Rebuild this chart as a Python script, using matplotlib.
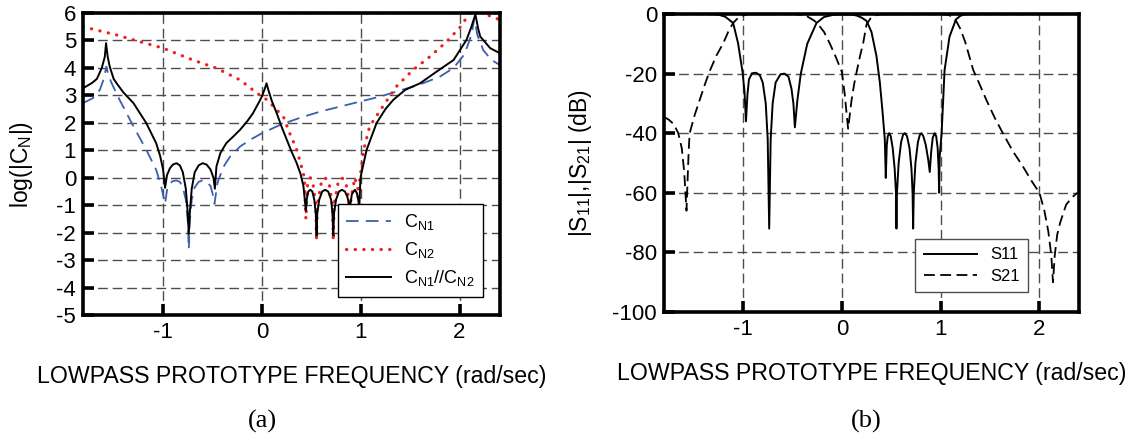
import matplotlib
matplotlib.use('Agg')
import matplotlib.pyplot as plt

plt.rcParams['font.family'] = ['Liberation Sans', 'DejaVu Sans']
plt.rcParams['mathtext.fontset'] = 'custom'
plt.rcParams['mathtext.rm'] = 'Liberation Sans'
plt.rcParams['mathtext.it'] = 'Liberation Sans:italic'
plt.rcParams['axes.unicode_minus'] = False

# ---------------- data ----------------
# (a) characteristic functions, log(|C_N|)
cn1_x = [-1.81, -1.71, -1.64, -1.60, -1.574, -1.55, -1.52, -1.44, -1.30, -1.17, -1.07,
         -1.02, -0.98, -0.96, -0.93, -0.90, -0.865, -0.83, -0.80, -0.77, -0.75, -0.74,
         -0.73, -0.71, -0.68, -0.64, -0.60, -0.56, -0.52, -0.49, -0.48, -0.45, -0.426,
         -0.38, -0.32, -0.22, -0.10, 0.0, 0.2, 0.4, 0.6, 0.8, 1.0, 1.2, 1.4, 1.6, 1.8,
         1.94, 2.05, 2.12, 2.15, 2.18, 2.24, 2.32, 2.41]
cn1_y = [2.72, 2.9, 3.2, 3.6, 4.05, 3.7, 3.44, 2.84, 1.87, 1.02, 0.29,
         -0.3, -0.95, -0.45, -0.2, -0.12, -0.1, -0.15, -0.35, -0.8, -1.6, -2.6,
         -1.6, -0.8, -0.35, -0.15, -0.1, -0.15, -0.3, -0.7, -0.95, -0.2, 0.05,
         0.45, 0.78, 1.14, 1.42, 1.62, 1.95, 2.2, 2.42, 2.6, 2.78, 2.96, 3.18, 3.4, 3.68,
         4.0, 4.5, 5.2, 5.8, 5.2, 4.65, 4.3, 4.1]

cn2_x = [-1.81, -1.47, -1.24, -1.0, -0.7, -0.46, -0.22, -0.05, 0.05, 0.13, 0.22, 0.28,
         0.35, 0.40, 0.43, 0.445, 0.46, 0.49, 0.52, 0.545, 0.553, 0.56, 0.60, 0.64, 0.68,
         0.714, 0.722, 0.73, 0.77, 0.81, 0.85, 0.88, 0.89, 0.90, 0.94, 0.97, 0.985, 0.99,
         1.03, 1.09, 1.20, 1.36, 1.53, 1.70, 1.87, 2.01, 2.09, 2.15, 2.22, 2.28, 2.41]
cn2_y = [5.5, 5.2, 4.96, 4.72, 4.29, 3.99, 3.56, 3.08, 2.84, 2.55, 2.2, 1.63,
         1.05, 0.41, 0.0, -1.5, -0.3, 0.0, -0.3, -1.0, -2.3, -1.0, -0.2, 0.0, -0.2,
         -1.0, -2.3, -1.0, -0.2, 0.0, -0.2, -0.8, -1.5, -0.8, 0.0, -0.4, -1.5, -0.07,
         1.02, 1.87, 2.47, 3.32, 3.93, 4.41, 4.96, 5.5, 5.93, 6.2, 6.2, 5.93, 5.75]

cnp_x = [-1.81, -1.72, -1.67, -1.62, -1.59, -1.577, -1.56, -1.54, -1.50, -1.47, -1.40,
         -1.30, -1.17, -1.07, -1.03, -1.0, -0.98, -0.96, -0.93, -0.90, -0.865, -0.83,
         -0.80, -0.77, -0.75, -0.74, -0.73, -0.71, -0.68, -0.64, -0.60, -0.56, -0.52,
         -0.49, -0.476, -0.46, -0.42, -0.36, -0.29, -0.22, -0.15, -0.09, -0.03, 0.0,
         0.03, 0.047, 0.065, 0.10, 0.15, 0.20, 0.25, 0.30, 0.35, 0.39, 0.42, 0.445,
         0.455, 0.47, 0.49, 0.51, 0.53, 0.545, 0.553, 0.56, 0.58, 0.61, 0.64, 0.67, 0.70,
         0.714, 0.722, 0.73, 0.75, 0.78, 0.81, 0.84, 0.865, 0.89, 0.91, 0.94, 0.96, 0.975,
         0.985, 0.995, 1.0, 1.06, 1.16, 1.25, 1.33, 1.45, 1.60, 1.77, 1.94, 2.07, 2.12,
         2.16, 2.19, 2.21, 2.31, 2.41]
cnp_y = [3.26, 3.45, 3.6, 4.0, 4.4, 4.9, 4.4, 4.05, 3.6, 3.44, 3.1,
         2.72, 1.99, 1.26, 0.8, 0.3, -0.37, 0.1, 0.35, 0.48, 0.53, 0.45,
         0.2, -0.4, -1.3, -2.05, -1.3, -0.4, 0.2, 0.45, 0.53, 0.48, 0.3,
         0.0, -0.4, 0.41, 0.9, 1.26, 1.5, 1.75, 2.05, 2.35, 2.75, 2.96,
         3.25, 3.44, 3.2, 2.8, 2.35, 1.85, 1.4, 0.95, 0.55, 0.15, -0.3, -1.2,
         -0.75, -0.5, -0.44, -0.5, -0.8, -1.3, -2.1, -1.3, -0.8, -0.5, -0.44, -0.5, -0.8,
         -1.3, -2.1, -1.3, -0.8, -0.5, -0.44, -0.5, -0.7, -1.1, -0.6, -0.44, -0.55, -0.8,
         -1.1, -0.2, 0.05, 1.02, 1.99, 2.5, 2.84, 3.2, 3.44, 3.87, 4.29, 5.02, 5.5,
         5.95, 5.4, 5.14, 4.72, 4.53]

# (b) S-parameters in dB
s11_x = [-1.80, -1.40, -1.30, -1.25, -1.18, -1.10, -1.05, -1.005, -0.985, -0.97, -0.955,
         -0.94, -0.91, -0.87, -0.83, -0.80, -0.77, -0.75, -0.735, -0.72, -0.70, -0.67,
         -0.62, -0.58, -0.54, -0.51, -0.49, -0.475, -0.45, -0.415, -0.35, -0.256, -0.18,
         -0.09, 0.0, 0.1, 0.15, 0.2, 0.25, 0.3, 0.35, 0.385, 0.41, 0.435, 0.445, 0.455,
         0.465, 0.48, 0.495, 0.515, 0.535, 0.548, 0.553, 0.558, 0.575, 0.60, 0.62, 0.638,
         0.66, 0.685, 0.705, 0.716, 0.722, 0.728, 0.745, 0.77, 0.79, 0.806, 0.825, 0.85,
         0.875, 0.89, 0.905, 0.92, 0.94, 0.955, 0.97, 0.98, 0.985, 0.99, 1.01, 1.04, 1.09,
         1.155, 1.20, 1.245, 1.40, 2.40]
s11_y = [0, 0, -0.05, -0.2, -0.9, -3, -9.8, -19.4, -26, -36, -27,
         -22, -19.9, -19.7, -20.5, -23, -30, -42, -72, -42, -30, -23,
         -20.2, -20, -21, -25, -30, -38, -29, -20, -10, -3, -1,
         -0.3, -0.1, -0.2, -0.5, -1.2, -2.3, -6, -14, -23, -32, -42, -55, -44,
         -41, -40, -41, -45, -52, -60, -72, -60, -50, -43, -40.5, -40,
         -41, -45, -52, -60, -72, -60, -50, -43, -40.5, -40, -41, -44,
         -49, -53, -46, -41.5, -40, -41, -45, -52, -60, -48, -40, -18.8, -7.6,
         -1.8, -0.6, -0.1, 0, 0]

s21_x = [-1.80, -1.75, -1.70, -1.655, -1.62, -1.595, -1.572, -1.56, -1.55, -1.54, -1.49,
         -1.44, -1.39, -1.34, -1.27, -1.20, -1.15, -1.10, -1.05, -1.0, -0.95, -0.50,
         -0.40, -0.35, -0.29, -0.25, -0.18, -0.12, -0.06, 0.0, 0.03, 0.05, 0.064, 0.08,
         0.098, 0.125, 0.15, 0.185, 0.216, 0.25, 0.29, 0.33, 0.40, 1.0, 1.08, 1.12,
         1.16, 1.20, 1.25, 1.33, 1.40, 1.465, 1.55, 1.63, 1.73, 1.83, 1.92, 2.0, 2.05,
         2.09, 2.12, 2.137, 2.155, 2.18, 2.21, 2.27, 2.33, 2.40]
s21_y = [-34.5, -35.5, -37, -40, -45, -53, -66, -55, -46, -40, -34,
         -29, -24, -19.4, -14, -9.8, -6, -3, -1.3, -0.5, -0.1, 0,
         -0.3, -0.8, -2, -3, -6, -10, -14.5, -19.4, -27, -34, -38.5, -34,
         -29, -23.5, -19.4, -14, -9.8, -3.5, -1.5, -0.5, -0.1, 0, -0.3, -1,
         -2.5, -5, -9.5, -18.8, -24, -29, -35, -40, -46, -51, -56, -60, -66,
         -73, -81, -90, -81, -74, -70, -64, -61.5, -59.6]

xticks = [-1, 0, 1, 2]
yticks_a = list(range(-5, 7))
yticks_b = [0, -20, -40, -60, -80, -100]

# ---------------- figure ----------------
fig = plt.figure(figsize=(11.42, 4.41), dpi=100)
ax1 = fig.add_axes([0.0727, 0.2857, 0.3652, 0.6848])
ax2 = fig.add_axes([0.5814, 0.2925, 0.3634, 0.6757])

grid_kw = dict(color='0.3', linewidth=1.0, linestyle=(0, (7, 3.5)))

def style_axes(ax):
    for s in ax.spines.values():
        s.set_linewidth(2.6)
        s.set_zorder(5)
    ax.tick_params(direction='in', length=8, width=2.6, labelsize=16,
                   top=False, right=False, pad=5)
    ax.grid(True, **grid_kw)
    ax.set_axisbelow(True)
    ax.set_xlabel('LOWPASS PROTOTYPE FREQUENCY (rad/sec)', fontsize=16.7, labelpad=16)

# (a)
ax1.plot(cn1_x, cn1_y, color='#3a5faf', linewidth=1.3, linestyle=(0, (7, 4)),
         label=r'$\mathrm{C_{N1}}$')
ax1.plot(cn2_x, cn2_y, color='#f02020', linewidth=2.3, linestyle=(0, (0.1, 2.6)),
         dash_capstyle='round', label=r'$\mathrm{C_{N2}}$')
ax1.plot(cnp_x, cnp_y, color='black', linewidth=1.4,
         label=r'$\mathrm{C_{N1}//C_{N2}}$')
ax1.set_xlim(-1.81, 2.41)
ax1.set_ylim(-5, 6)
ax1.set_xticks(xticks)
ax1.set_yticks(yticks_a)
style_axes(ax1)
ax1.set_ylabel(r'log(|$\mathrm{C_N}$|)', fontsize=16.5, labelpad=15)
leg1 = ax1.legend(loc='lower right', bbox_to_anchor=(0.958, 0.061), borderaxespad=0,
                  fontsize=13, handlelength=2.5, handletextpad=0.7, labelspacing=0.45,
                  borderpad=0.45, fancybox=False, framealpha=1, edgecolor='black')
leg1.get_frame().set_linewidth(1.0)
leg1.set_zorder(6)

# (b)
ax2.plot(s11_x, s11_y, color='black', linewidth=1.4, label='S11')
ax2.plot(s21_x, s21_y, color='black', linewidth=1.3, linestyle=(0, (6, 3)), label='S21')
ax2.set_xlim(-1.80, 2.40)
ax2.set_ylim(-100, 0)
ax2.set_xticks(xticks)
ax2.set_yticks(yticks_b)
style_axes(ax2)
ax2.set_ylabel(r'|$\mathrm{S_{11}}$|,|$\mathrm{S_{21}}$| (dB)', fontsize=16.5, labelpad=13)
leg2 = ax2.legend(loc='lower right', bbox_to_anchor=(0.878, 0.066), borderaxespad=0,
                  fontsize=12, handlelength=3.2, handletextpad=0.8, labelspacing=0.4,
                  borderpad=0.5, fancybox=False, framealpha=1, edgecolor='0.3')
leg2.get_frame().set_linewidth(1.0)
leg2.set_zorder(6)

fig.text(262 / 1142, 1 - 421 / 441, '(a)', family='Liberation Serif', fontsize=19,
         ha='center', va='center')
fig.text(866 / 1142, 1 - 421 / 441, '(b)', family='Liberation Serif', fontsize=19,
         ha='center', va='center')

plt.savefig('out.png', dpi=100)
